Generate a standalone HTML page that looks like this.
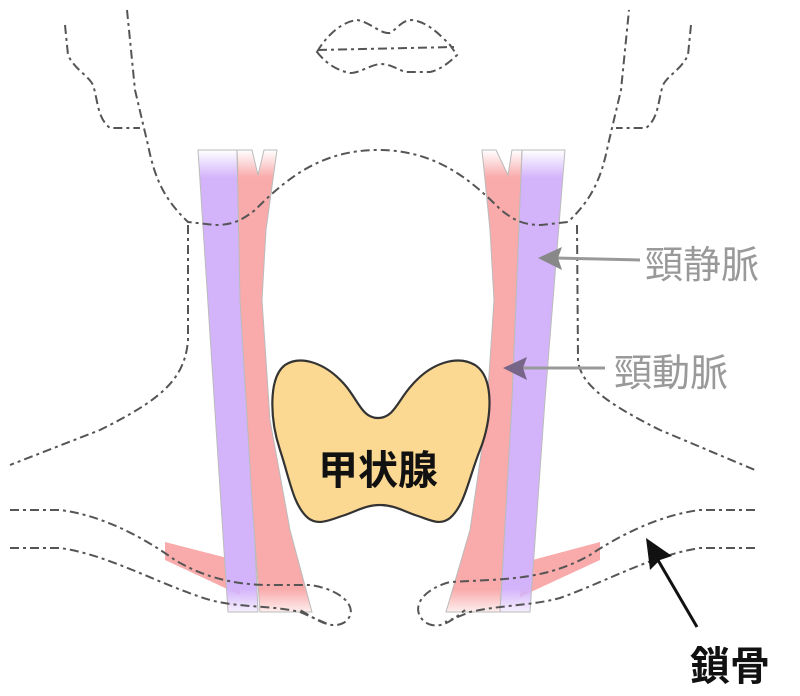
<!DOCTYPE html>
<html><head><meta charset="utf-8"><style>
html,body{margin:0;padding:0;background:#fff;}
svg{display:block;}
</style></head><body>
<svg width="800" height="696" viewBox="0 0 800 696" xmlns="http://www.w3.org/2000/svg">
<defs>
<linearGradient id="fadeP" x1="0" y1="0" x2="0" y2="1"><stop offset="0" stop-color="#d3b4fb" stop-opacity="0"/><stop offset="0.06" stop-color="#d3b4fb"/><stop offset="0.95" stop-color="#d3b4fb"/><stop offset="1" stop-color="#d3b4fb" stop-opacity="0.2"/></linearGradient>
<linearGradient id="fadeR" x1="0" y1="0" x2="0" y2="1"><stop offset="0" stop-color="#f9aaaa" stop-opacity="0"/><stop offset="0.06" stop-color="#f9aaaa"/><stop offset="0.95" stop-color="#f9aaaa"/><stop offset="1" stop-color="#f9aaaa" stop-opacity="0.2"/></linearGradient>
</defs>
<polygon points="165,542 235,560 240,595 165,560" fill="#f9aaaa"/>
<polygon points="600,542 525,562 520,597 600,560" fill="#f9aaaa"/>
<polygon points="198,150 237,150 258,612 228,612" fill="url(#fadeP)" stroke="#bbb" stroke-width="1"/>
<polygon points="237,150 252,150 258,175 264,150 277,150 266,230 262,300 270,420 290,530 312,612 260,612 252,500 240,300" fill="url(#fadeR)" stroke="#bbb" stroke-width="1"/>
<polygon points="522,150 565,150 545,400 530,612 500,612 512,400" fill="url(#fadeP)" stroke="#bbb" stroke-width="1"/>
<polygon points="482,150 496,150 508,175 512,150 522,150 512,400 500,612 446,612 470,530 486,420 494,300 490,230" fill="url(#fadeR)" stroke="#bbb" stroke-width="1"/>
<path d="M285,365 C300,355 325,362 345,385 C358,400 362,418 378,418 C394,418 398,400 412,385 C432,362 458,355 475,365 C495,378 492,420 480,450 C468,480 465,505 450,518 C440,526 430,520 418,516 C405,512 395,505 380,505 C365,505 355,512 342,516 C330,520 318,526 308,518 C293,505 290,480 280,450 C270,420 268,378 285,365 Z" fill="#fbd992" stroke="#333" stroke-width="2.2"/>
<text x="378" y="484" text-anchor="middle" font-family="'Liberation Sans','Noto Sans CJK JP',sans-serif" font-size="40" font-weight="bold" fill="#111">甲状腺</text>
<g fill="none" stroke="#555" stroke-width="2" stroke-dasharray="9,4,3,4">
<path d="M317,52 C325,38 340,22 357,20 C370,22 380,34 390,33 C398,28 402,20 412,20 C428,22 440,35 450,45 L457,55 C450,62 440,70 430,72 L405,72 C395,68 390,64 380,64 C370,65 360,73 350,73 C335,70 325,62 317,52 Z"/>
<path d="M318,50 L455,47"/>
<path d="M65,25 L68,55 C75,70 88,75 93,85 C98,100 97,118 110,128 L140,128"/>
<path d="M127,10 L135,90 L148,145 C155,180 165,200 188,222 L215,225 C230,225 240,222 255,210 C285,180 320,150 378,150 C436,150 471,180 501,210 C516,222 526,225 541,225 L568,222 C591,200 601,180 608,145 L621,90 L629,10"/>
<path d="M691,25 L688,55 C681,70 668,75 663,85 C658,100 659,118 646,128 L616,128"/>
<path d="M188,225 L188,340 C185,380 160,400 100,430 L10,465"/>
<path d="M577,225 L578,360 C580,385 610,405 660,430 L755,470"/>
<path d="M10,510 L60,510 C100,515 140,535 175,560 C200,575 230,585 270,585 L310,585 C345,590 360,610 345,622 C330,632 310,615 300,610"/>
<path d="M10,548 L60,548 C110,555 160,585 210,600 C240,608 270,605 300,612 L330,625"/>
<path d="M755,510 L700,510 C660,515 620,535 590,555 C560,572 530,578 490,580 L450,582 C420,590 410,610 425,622 C440,632 455,618 465,610"/>
<path d="M755,548 L700,548 C650,556 610,580 560,598 C530,606 500,605 470,612 L445,622"/>
</g>
<line x1="640" y1="260" x2="555" y2="258" stroke="#999" stroke-width="3"/>
<polygon points="538,258 562,247 558,258 562,270" fill="#888"/>
<line x1="605" y1="368" x2="520" y2="368" stroke="#999" stroke-width="3"/>
<polygon points="503,368 527,357 523,368 527,380" fill="#776688"/>
<line x1="697" y1="627" x2="655" y2="555" stroke="#111" stroke-width="3"/>
<polygon points="646,538 672,556 660,560 650,570" fill="#111"/>
<g font-family="'Liberation Sans','Noto Sans CJK JP',sans-serif" font-size="38">
<text x="645" y="278" fill="#999">頸静脈</text>
<text x="614" y="386" fill="#999">頸動脈</text>
<text x="690" y="680" fill="#111" font-weight="bold" font-size="40">鎖骨</text>
</g>
</svg>
</body></html>
